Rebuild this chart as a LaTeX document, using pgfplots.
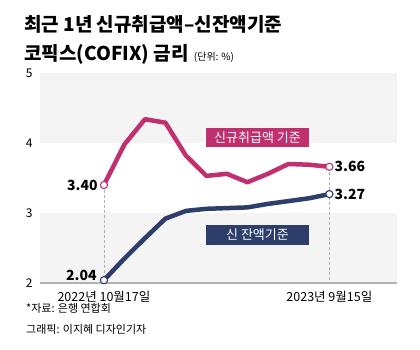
\documentclass[border=0pt]{standalone}
\usepackage{pgfplots}
\pgfplotsset{compat=1.18}
\usepackage{fontspec}
\setmainfont{Noto Sans CJK KR}
\definecolor{pinkc}{HTML}{C0306F}
\definecolor{navyc}{HTML}{2D3E6B}
\definecolor{bandc}{HTML}{F4F4F4}
\begin{document}
\begin{tikzpicture}[x=1pt,y=1pt]
\path[use as bounding box,fill=white] (0,0) rectangle (420,349);
% titles
\node[anchor=base west,inner sep=0pt,font=\fontsize{19}{22}\selectfont\bfseries] at (24,317) {최근 1년 신규취급액–신잔액기준};
\node[anchor=base west,inner sep=0pt,font=\fontsize{19}{22}\selectfont\bfseries] (t2) at (24,289) {코픽스(COFIX) 금리};
\node[anchor=base west,inner sep=0pt,font=\fontsize{10}{12}\selectfont] at ([xshift=5pt]t2.base east) {(단위: \%)};
\begin{axis}[
  at={(40pt,66pt)}, anchor=south west,
  scale only axis, width=357pt, height=210pt,
  xmin=-3.12, xmax=14.3, ymin=2, ymax=5,
  axis line style={draw=none},
  tick style={draw=none},
  xtick={0,11},
  xticklabels={2022년 10월17일, 2023년 9월15일},
  ytick={2,3,4,5},
  /pgf/number format/assume math mode=true,
  yticklabel style={font=\fontsize{12}{14}\selectfont, xshift=-4pt},
  xticklabel style={font=\fontsize{12.5}{14}\selectfont, anchor=base, inner sep=0pt, yshift=-18pt},
  clip=false,
]
\fill[bandc] (axis cs:-3.12,4) rectangle (axis cs:14.3,5);
\fill[bandc] (axis cs:-3.12,2) rectangle (axis cs:14.3,3);
\draw[gray!60, line width=1.3pt] (rel axis cs:0,0) -- (rel axis cs:1,0);
\draw[gray!60, densely dashed, line width=0.4pt] (axis cs:0,3.40) -- (axis cs:0,2);
\draw[gray!60, densely dashed, line width=0.4pt] (axis cs:11,3.66) -- (axis cs:11,2);
\addplot[pinkc, line width=4.5pt, line join=round, mark=none] coordinates {
 (0,3.40) (1,3.98) (2,4.34) (3,4.29) (4,3.82) (5,3.53) (6,3.56) (7,3.44) (8,3.56) (9,3.70) (10,3.69) (11,3.66)};
\addplot[navyc, line width=4.5pt, line join=round, mark=none] coordinates {
 (0,2.04) (1,2.35) (2,2.64) (3,2.92) (4,3.03) (5,3.06) (6,3.07) (7,3.08) (8,3.13) (9,3.17) (10,3.21) (11,3.27)};
\addplot[only marks, mark=*, mark size=3.6pt, mark options={fill=white, draw=pinkc, line width=1.1pt}] coordinates {(0,3.40) (11,3.66)};
\addplot[only marks, mark=*, mark size=3.6pt, mark options={fill=white, draw=navyc, line width=1.1pt}] coordinates {(0,2.04) (11,3.27)};
\node[anchor=east, font=\fontsize{14}{16}\selectfont\bfseries, inner sep=0pt] at (axis cs:-0.3,3.40) {3.40};
\node[anchor=east, font=\fontsize{14}{16}\selectfont\bfseries, inner sep=0pt] at (axis cs:-0.35,2.11) {2.04};
\node[anchor=west, font=\fontsize{14}{16}\selectfont\bfseries, inner sep=0pt] at (axis cs:11.25,3.66) {3.66};
\node[anchor=west, font=\fontsize{14}{16}\selectfont\bfseries, inner sep=0pt] at (axis cs:11.25,3.27) {3.27};
\end{axis}
\node[fill=pinkc, text=white, minimum width=103pt, minimum height=19pt, inner sep=0pt, font=\fontsize{13}{15}\selectfont] at (257.5,211.5) {신규취급액 기준};
\node[fill=navyc, text=white, minimum width=103pt, minimum height=20pt, inner sep=0pt, font=\fontsize{13}{15}\selectfont] at (257.5,114) {신 잔액기준};
% footnotes
\node[anchor=base west,inner sep=0pt,font=\fontsize{11}{13}\selectfont] at (26,36.5) {*자료: 은행 연합회};
\node[anchor=base west,inner sep=0pt,font=\fontsize{11}{13}\selectfont] at (26,16) {그래픽: 이지혜 디자인기자};
\end{tikzpicture}
\end{document}
